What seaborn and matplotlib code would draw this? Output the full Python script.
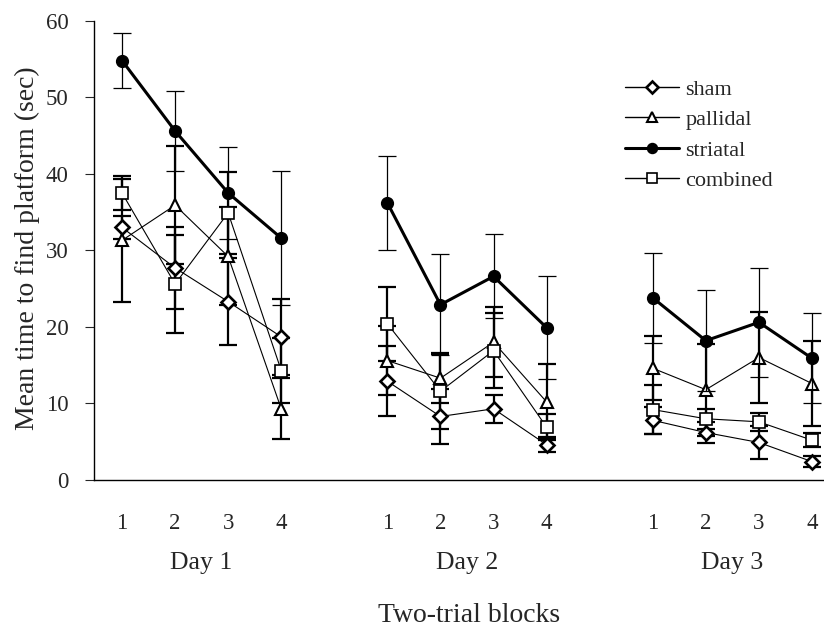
import numpy as np
import pandas as pd
import matplotlib
matplotlib.use("Agg")
import matplotlib.pyplot as plt
import matplotlib.transforms as mtransforms
from matplotlib.lines import Line2D
import seaborn as sns

# ---- data ----
days = ["Day 1"] * 4 + ["Day 2"] * 4 + ["Day 3"] * 4
blocks = [1, 2, 3, 4] * 3
positions = [1, 2, 3, 4, 6, 7, 8, 9, 11, 12, 13, 14]
day_labels = ["Day 1", "Day 2", "Day 3"]
groups = ["sham", "pallidal", "striatal", "combined"]

sham = [33.0, 27.7, 23.3, 18.7, 12.9, 8.3, 9.3, 4.6, 7.8, 6.2, 4.9, 2.4]
sham_se = [1.5, 5.3, 5.7, 5.0, 4.6, 3.6, 1.8, 1.0, 1.8, 1.4, 2.2, 0.7]
pallidal = [31.3, 35.9, 29.2, 9.3, 15.6, 13.3, 18.0, 10.2, 14.6, 11.8, 16.0, 12.6]
pallidal_se = [8.0, 7.7, 6.4, 4.0, 4.5, 3.3, 4.6, 4.9, 4.2, 6.0, 5.9, 5.5]
striatal = [54.8, 45.6, 37.5, 31.6, 36.2, 22.9, 26.6, 19.9, 23.8, 18.2, 20.6, 15.9]
striatal_se = [3.6, 5.2, 6.0, 8.8, 6.1, 6.6, 5.5, 6.7, 5.9, 6.6, 7.1, 5.9]
combined = [37.5, 25.6, 34.9, 14.3, 20.4, 11.6, 16.9, 6.9, 9.2, 8.0, 7.6, 5.2]
combined_se = [2.2, 6.4, 5.4, 4.3, 4.8, 4.9, 4.9, 1.7, 3.2, 1.3, 1.2, 0.9]

means = {"sham": sham, "pallidal": pallidal, "striatal": striatal, "combined": combined}
sems = {"sham": sham_se, "pallidal": pallidal_se, "striatal": striatal_se, "combined": combined_se}

rows = []
for g in groups:
    for d, b, p, m, s in zip(days, blocks, positions, means[g], sems[g]):
        rows.append({"group": g, "day": d, "block": b, "pos": p, "mean": m, "se": s})
df = pd.DataFrame(rows)

# ---- style ----
sns.set_theme(style="ticks")
plt.rcParams["font.family"] = ["Liberation Serif", "DejaVu Serif"]
FS_TICK = 16.5
FS_DAY = 18.5
FS_LAB = 20
FS_LEG = 16

styles = {
    "sham": dict(marker="D", ms=7.2, mfc="white", mec="black", mew=1.9, lw=0.8, elw=1.6, z=3),
    "pallidal": dict(marker="^", ms=8.5, mfc="white", mec="black", mew=1.5, lw=0.8, elw=1.6, z=3),
    "striatal": dict(marker="o", ms=8.5, mfc="black", mec="black", mew=1.0, lw=2.2, elw=0.9, z=4),
    "combined": dict(marker="s", ms=8.0, mfc="white", mec="black", mew=1.2, lw=0.8, elw=1.6, z=3),
}

fig = plt.figure(figsize=(8.24, 6.28), dpi=100)
ax = fig.add_axes([94 / 824, 1 - 480 / 628, 730 / 824, (480 - 20.7) / 628])

for g in groups:
    st = styles[g]
    sub = df[df["group"] == g]
    ax.errorbar(sub["pos"], sub["mean"], yerr=sub["se"], fmt="none", ecolor="black",
                elinewidth=st["elw"], capsize=6.5, capthick=st["elw"], zorder=st["z"] - 1)
    sns.lineplot(data=sub, x="pos", y="mean", units="day", estimator=None, ax=ax,
                 color="black", linewidth=st["lw"], marker=st["marker"], markersize=st["ms"],
                 markerfacecolor=st["mfc"], markeredgecolor=st["mec"], markeredgewidth=st["mew"],
                 zorder=st["z"], legend=False)

handles = []
for g in groups:
    st = styles[g]
    handles.append(Line2D([0], [0], color="black", lw=st["lw"] if g == "striatal" else 1.0,
                          marker=st["marker"], markersize=st["ms"] * 0.85,
                          markerfacecolor=st["mfc"], markeredgecolor=st["mec"],
                          markeredgewidth=st["mew"]))
ax.legend(handles, groups, loc="upper left", bbox_to_anchor=(0.728, 0.873), frameon=False,
          fontsize=FS_LEG, handlelength=2.4, handletextpad=0.3, labelspacing=0.45,
          borderpad=0, borderaxespad=0)

ax.set_xlim(0.4725, 14.226)
ax.set_ylim(0, 60)
ax.set_yticks([0, 10, 20, 30, 40, 50, 60])
ax.set_xticks(positions, [str(b) for b in blocks])
ax.tick_params(axis="x", length=0, pad=23.5, labelsize=FS_TICK)
ax.tick_params(axis="y", direction="out", length=6.5, width=0.8, labelsize=FS_TICK, pad=12)
for side in ["top", "right"]:
    ax.spines[side].set_visible(False)
for side in ["left", "bottom"]:
    ax.spines[side].set_linewidth(1.0)
    ax.spines[side].set_color("black")

trans = mtransforms.blended_transform_factory(ax.transData, ax.transAxes)
for i, lab in enumerate(day_labels):
    xc = np.mean(positions[i * 4:(i + 1) * 4])
    ax.text(xc, (480 - 569) / 459.3, lab, transform=trans, ha="center", va="baseline",
            fontsize=FS_DAY)

ax.set_xlabel("Two-trial blocks", fontsize=FS_LAB)
ax.xaxis.label.set_va("baseline")
ax.xaxis.set_label_coords(0.5137, (480 - 622) / 459.3)
ax.set_ylabel("Mean time to find platform (sec)", fontsize=FS_LAB)
ax.yaxis.set_label_coords(-0.074, 0.504)

fig.savefig("out.png", dpi=100)
